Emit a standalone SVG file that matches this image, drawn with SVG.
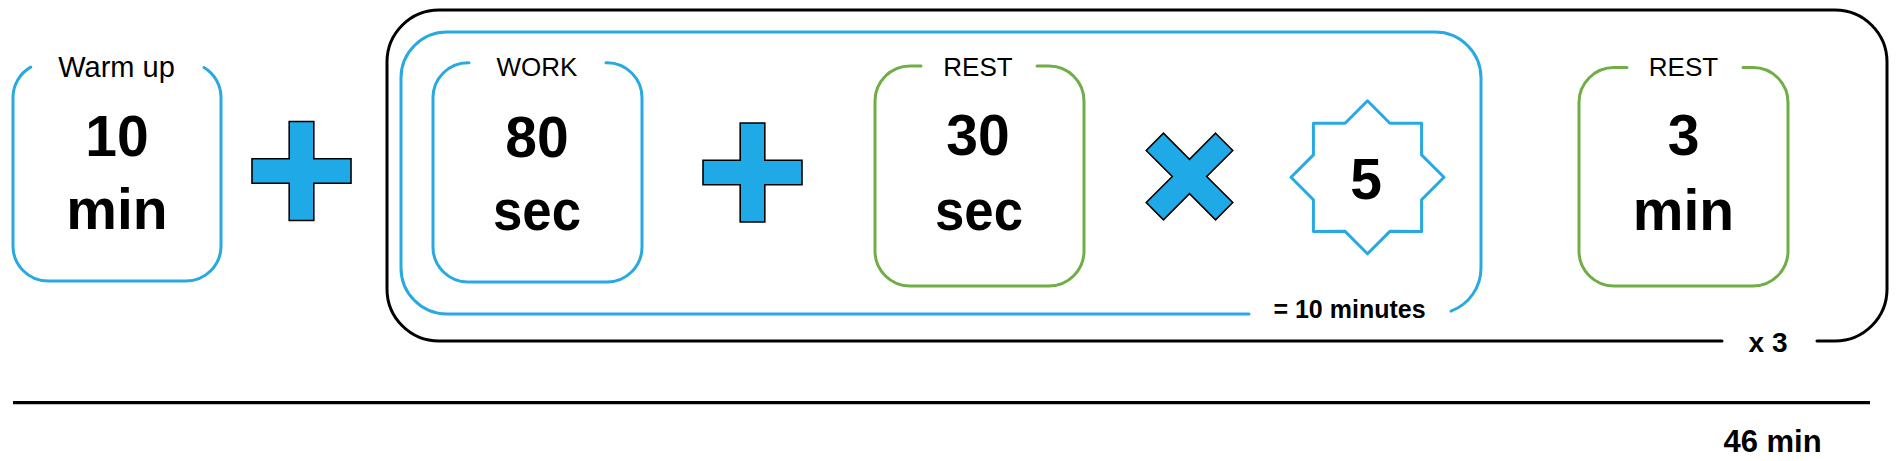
<svg xmlns="http://www.w3.org/2000/svg" xmlns:xlink="http://www.w3.org/1999/xlink" width="1902" height="461" viewBox="0 0 1902 461">
<style>
.bg{fill:#fff}
.frame{fill:none;stroke-width:3;stroke-linecap:round;stroke-linejoin:round}
.blue{stroke:#29A9E1}
.green{stroke:#70AD47}
.black{stroke:#000}
.op{fill:#1FA9E6;stroke:#000;stroke-width:1.6;stroke-linejoin:miter}
.lbl{font-family:"Liberation Sans",Arial,sans-serif;font-size:26px;fill:#000;text-anchor:middle}
.lbl.wide{font-size:29px}
.big{font-family:"Liberation Sans",Arial,sans-serif;font-size:57px;font-weight:bold;fill:#000;text-anchor:middle}
.note{font-family:"Liberation Sans",Arial,sans-serif;font-weight:bold;fill:#000;text-anchor:middle}
</style>
<defs>
<polygon id="plusShape" points="-12.3,-49.5 12.3,-49.5 12.3,-12.3 49.5,-12.3 49.5,12.3 12.3,12.3 12.3,49.5 -12.3,49.5 -12.3,12.3 -49.5,12.3 -49.5,-12.3 -12.3,-12.3"/>
</defs>
<rect class="bg" x="0" y="0" width="1902" height="461"/>

<g id="cycle-x3">
<path class="frame black" d="M1722,341 H439 A52,52 0 0 1 387,289 V62 A52,52 0 0 1 439,10 H1835 A52,52 0 0 1 1887,62 V289 A52,52 0 0 1 1835,341 H1817"/>
<text class="note" x="1768" y="352" font-size="28">x 3</text>
</g>

<g id="interval-block">
<path class="frame blue" d="M1249,314 H447 A46,46 0 0 1 401,268 V78 A46,46 0 0 1 447,32 H1435 A46,46 0 0 1 1481,78 V268 A46,46 0 0 1 1451,311.1"/>
<text class="note" x="1349.5" y="318" font-size="25">= 10 minutes</text>
</g>

<g id="warmup">
<path class="frame blue" d="M204,67.5 A35,35 0 0 1 221,97.5 V246 A35,35 0 0 1 186,281 H48 A35,35 0 0 1 13,246 V97.5 A35,35 0 0 1 30.7,67.1"/>
<text class="lbl wide" x="116.5" y="76.5">Warm up</text>
<text class="big" x="117" y="156">10</text>
<text class="big" x="117" y="229">min</text>
</g>

<g id="plus1">
<use xlink:href="#plusShape" class="op" transform="translate(301.5,171)"/>
</g>

<g id="work">
<path class="frame blue" d="M606,62.7 H607 A35,35 0 0 1 642,97.7 V247 A35,35 0 0 1 607,282 H468 A35,35 0 0 1 433,247 V97.7 A35,35 0 0 1 468,62.7 H469"/>
<text class="lbl" x="537" y="76">WORK</text>
<text class="big" x="537" y="156.5">80</text>
<text class="big" x="537" y="230" textLength="88" lengthAdjust="spacingAndGlyphs">sec</text>
</g>

<g id="plus2">
<use xlink:href="#plusShape" class="op" transform="translate(752.5,172.5)"/>
</g>

<g id="rest-short">
<path class="frame green" d="M1037,66 H1049 A35,35 0 0 1 1084,101 V251 A35,35 0 0 1 1049,286 H910 A35,35 0 0 1 875,251 V101 A35,35 0 0 1 910,66 H921"/>
<text class="lbl" x="978" y="76">REST</text>
<text class="big" x="978" y="155">30</text>
<text class="big" x="979" y="230" textLength="88" lengthAdjust="spacingAndGlyphs">sec</text>
</g>

<g id="times">
<use xlink:href="#plusShape" class="op" transform="translate(1189.5,176.5) rotate(45) scale(0.99)"/>
</g>

<g id="repeat5">
<polygon class="frame blue" points="1367.5,100.8 1389.9,123.25 1421.6,123.2 1421.55,154.9 1444,177.3 1421.55,199.7 1421.6,231.4 1389.9,231.35 1367.5,253.8 1345.1,231.35 1313.4,231.4 1313.45,199.7 1291,177.3 1313.45,154.9 1313.4,123.2 1345.1,123.25"/>
<text class="big" x="1366" y="199">5</text>
</g>

<g id="rest-long">
<path class="frame green" d="M1743,67.5 H1753 A35,35 0 0 1 1788,102.5 V251 A35,35 0 0 1 1753,286 H1614 A35,35 0 0 1 1579,251 V102.5 A35,35 0 0 1 1614,67.5 H1627"/>
<text class="lbl" x="1683.5" y="76">REST</text>
<text class="big" x="1683.5" y="155">3</text>
<text class="big" x="1683.5" y="230">min</text>
</g>

<g id="connectors">
<line x1="13" y1="402.7" x2="1870" y2="402.7" stroke="#000" stroke-width="3.2"/>
</g>

<g id="total">
<text class="note" x="1772.5" y="451.7" font-size="31">46 min</text>
</g>
</svg>
